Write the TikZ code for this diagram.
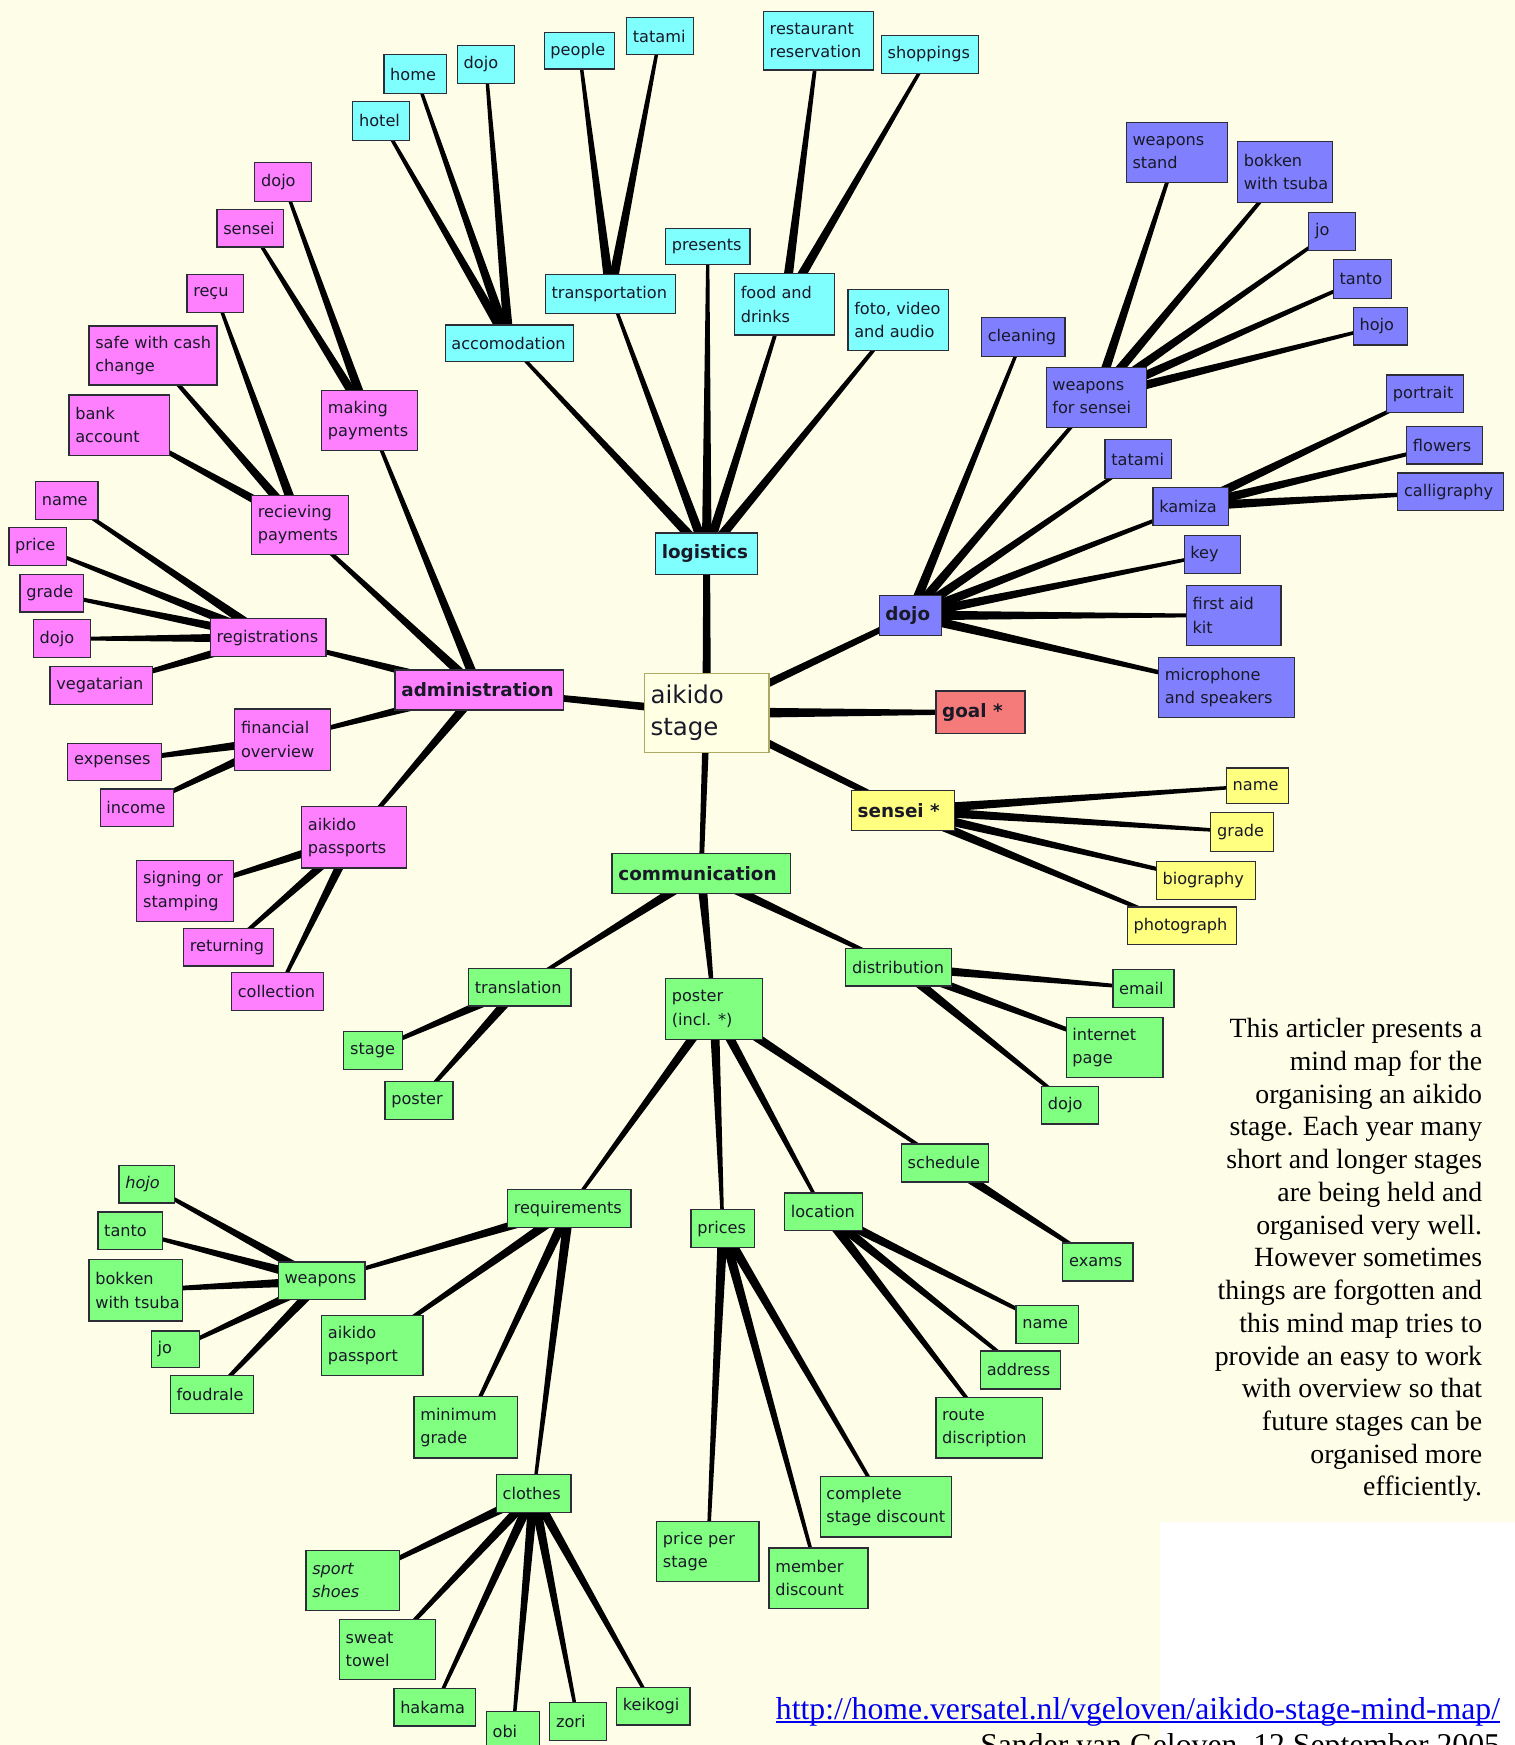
\documentclass[tikz,border=0pt]{standalone}
\usepackage{fontspec}
\setmainfont{Liberation Serif}
\newfontfamily\bxfont{DejaVu Sans}
\usetikzlibrary{calc}
\pgfdeclarelayer{bgl}
\pgfdeclarelayer{edges}
\pgfsetlayers{bgl,edges,main}
\definecolor{bgc}{RGB}{254,253,232}
\definecolor{cyanc}{RGB}{128,255,255}
\definecolor{magc}{RGB}{255,128,255}
\definecolor{bluec}{RGB}{128,128,255}
\definecolor{greenc}{RGB}{128,255,128}
\definecolor{yelc}{RGB}{255,255,128}
\definecolor{redc}{RGB}{245,122,122}
\definecolor{cenc}{RGB}{255,255,228}
\definecolor{cenb}{RGB}{170,170,100}
\definecolor{bordc}{RGB}{45,45,55}
\definecolor{txtc}{RGB}{25,25,40}
\definecolor{urlc}{RGB}{0,0,238}
\tikzset{
  box/.style={draw=bordc, line width=1.1pt, inner sep=0pt},
  cy/.style={box, fill=cyanc},
  mg/.style={box, fill=magc},
  bl/.style={box, fill=bluec},
  gr/.style={box, fill=greenc},
  ye/.style={box, fill=yelc},
  rd/.style={box, fill=redc},
  lbl/.style={anchor=west, inner sep=0pt, align=left, text=txtc, font=\bxfont\fontsize{14.5}{21}\selectfont},
  ilbl/.style={lbl, font=\bxfont\itshape\fontsize{14.5}{21}\selectfont},
  blbl/.style={lbl, font=\bxfont\bfseries\fontsize{16.5}{21}\selectfont},
  edge/.style={fill=black}
}
\newcommand\bx[8][lbl]{%
  \pgfmathsetmacro\bxcx{(#4+#6)/2}%
  \pgfmathsetmacro\bxcy{(#5+#7)/2}%
  \pgfmathsetmacro\bxw{#6-#4}%
  \pgfmathsetmacro\bxh{#7-#5}%
  \node[#3, minimum width=\bxw pt, minimum height=\bxh pt] (#2) at (\bxcx,\bxcy) {};
  \node[#1] at ([xshift=6pt]#2.west) {#8};}
\newcommand\cnw[4]{\fill[edge] ($(#1.center)!#3!90:(#2.center)$) -- ($(#2.center)!#4!-90:(#1.center)$) -- ($(#2.center)!#4!90:(#1.center)$) -- ($(#1.center)!#3!-90:(#2.center)$) -- cycle;}
\newcommand\cn[2]{\cnw{#1}{#2}{4.4pt}{1.3pt}}
\begin{document}
\begin{tikzpicture}[x=1pt,y=-1pt]
\useasboundingbox (0,0) rectangle (1361,1568);
\begin{pgfonlayer}{bgl}
\fill[bgc] (0,0) rectangle (1361,1568);
\fill[white] (1042,1368) rectangle (1361,1568);
\end{pgfonlayer}
% centre
\node[draw=cenb, line width=1.3pt, fill=cenc, minimum width=112pt, minimum height=71pt, inner sep=0pt] (stage) at (635,640.5) {};
\node[lbl, font=\bxfont\fontsize{22}{28}\selectfont] at ([xshift=6pt]stage.west) {aikido\\stage};
% logistics
\bx[blbl]{log}{cy}{589}{479}{681}{516}{logistics}
\bx{lpres}{cy}{598}{205}{674}{238}{presents}
\bx{ltrans}{cy}{490}{247}{607}{282}{transportation}
\bx{lacc}{cy}{400}{292}{515}{325}{accomodation}
\bx{lfood}{cy}{660}{246}{750}{301}{food and\\drinks}
\bx{lfoto}{cy}{762}{260}{852}{315}{foto, video\\and audio}
\bx{lhotel}{cy}{317}{91}{368}{126}{hotel}
\bx{lhome}{cy}{345}{49}{401}{84}{home}
\bx{ldojo}{cy}{411}{41}{462}{75}{dojo}
\bx{lpeople}{cy}{489}{29}{552}{62}{people}
\bx{ltatami}{cy}{563}{16}{623}{49}{tatami}
\bx{lrest}{cy}{686}{10}{785}{63}{restaurant\\reservation}
\bx{lshop}{cy}{792}{32}{879}{66}{shoppings}
% dojo
\bx[blbl]{dj}{bl}{790}{535}{846}{571}{dojo}
\bx{dclean}{bl}{882}{285}{957}{320}{cleaning}
\bx{dwfs}{bl}{940}{330}{1030}{384}{weapons\\for sensei}
\bx{dstand}{bl}{1012}{110}{1103}{164}{weapons\\stand}
\bx{dbok}{bl}{1112}{127}{1197}{182}{bokken\\with tsuba}
\bx{djo}{bl}{1176}{191}{1218}{225}{jo}
\bx{dtanto}{bl}{1198}{233}{1250}{268}{tanto}
\bx{dhojo}{bl}{1216}{276}{1265}{310}{hojo}
\bx{dport}{bl}{1246}{337}{1315}{371}{portrait}
\bx{dflow}{bl}{1264}{383}{1332}{417}{flowers}
\bx{dcall}{bl}{1256}{425}{1351}{459}{calligraphy}
\bx{dtat}{bl}{993}{395}{1053}{430}{tatami}
\bx{dkam}{bl}{1036}{438}{1104}{472}{kamiza}
\bx{dkey}{bl}{1064}{481}{1115}{515}{key}
\bx{daid}{bl}{1066}{526}{1151}{580}{first aid\\kit}
\bx{dmic}{bl}{1041}{591}{1163}{645}{microphone\\and speakers}
% goal
\bx[blbl]{goal}{rd}{841}{621}{921}{659}{goal *}
% sensei
\bx[blbl]{sen}{ye}{765}{710}{858}{746}{sensei *}
\bx{sname}{ye}{1102}{690}{1158}{722}{name}
\bx{sgrade}{ye}{1088}{730}{1144}{765}{grade}
\bx{sbio}{ye}{1039}{774}{1128}{808}{biography}
\bx{sphoto}{ye}{1013}{815}{1111}{849}{photograph}
% administration
\bx[blbl]{adm}{mg}{355}{602}{506}{638}{administration}
\bx{amake}{mg}{289}{351}{375}{405}{making\\payments}
\bx{adojo}{mg}{229}{146}{280}{181}{dojo}
\bx{asensei}{mg}{195}{188}{255}{222}{sensei}
\bx{arecu}{mg}{168}{247}{219}{281}{reçu}
\bx{asafe}{mg}{80}{293}{195}{346}{safe with cash\\change}
\bx{abank}{mg}{62}{355}{152}{409}{bank\\account}
\bx{arecv}{mg}{226}{445}{313}{498}{recieving\\payments}
\bx{aname}{mg}{32}{433}{88}{467}{name}
\bx{aprice}{mg}{8}{474}{60}{508}{price}
\bx{agrade}{mg}{18}{516}{75}{550}{grade}
\bx{adojo2}{mg}{30}{557}{81}{591}{dojo}
\bx{areg}{mg}{189}{556}{293}{590}{registrations}
\bx{aveg}{mg}{45}{599}{137}{633}{vegatarian}
\bx{afin}{mg}{211}{637}{297}{692}{financial\\overview}
\bx{aexp}{mg}{61}{668}{145}{701}{expenses}
\bx{ainc}{mg}{90}{709}{156}{743}{income}
\bx{apass}{mg}{271}{725}{365}{780}{aikido\\passports}
\bx{asign}{mg}{123}{773}{210}{828}{signing or\\stamping}
\bx{aret}{mg}{165}{834}{246}{868}{returning}
\bx{acoll}{mg}{208}{874}{291}{908}{collection}
% communication
\bx[blbl]{com}{gr}{550}{767}{710}{803}{communication}
\bx{ctrans}{gr}{421}{870}{513}{904}{translation}
\bx{cstage}{gr}{309}{927}{362}{961}{stage}
\bx{cposter}{gr}{346}{972}{407}{1006}{poster}
\bx{cpinc}{gr}{598}{879}{685}{934}{poster\\(incl. *)}
\bx{cdist}{gr}{760}{852}{855}{886}{distribution}
\bx{cemail}{gr}{1000}{871}{1055}{905}{email}
\bx{cinet}{gr}{958}{914}{1045}{968}{internet\\page}
\bx{cdojo}{gr}{936}{976}{987}{1010}{dojo}
\bx{csched}{gr}{810}{1028}{888}{1062}{schedule}
\bx{cexams}{gr}{955}{1117}{1018}{1151}{exams}
\bx{cloc}{gr}{705}{1072}{775}{1106}{location}
\bx{clname}{gr}{913}{1173}{969}{1207}{name}
\bx{caddr}{gr}{881}{1214}{953}{1248}{address}
\bx{croute}{gr}{841}{1256}{937}{1310}{route\\discription}
\bx{cprices}{gr}{621}{1087}{678}{1121}{prices}
\bx{ccomp}{gr}{737}{1327}{855}{1381}{complete\\stage discount}
\bx{cmem}{gr}{691}{1391}{780}{1445}{member\\discount}
\bx{cpps}{gr}{590}{1367}{682}{1421}{price per\\stage}
\bx{creq}{gr}{456}{1069}{567}{1103}{requirements}
\bx{cweap}{gr}{250}{1134}{328}{1168}{weapons}
\bx[ilbl]{chojo}{gr}{107}{1047}{157}{1081}{hojo}
\bx{ctanto}{gr}{88}{1089}{146}{1123}{tanto}
\bx{cbok}{gr}{80}{1132}{164}{1187}{bokken\\with tsuba}
\bx{cjo}{gr}{136}{1196}{179}{1229}{jo}
\bx{cfoud}{gr}{153}{1236}{228}{1270}{foudrale}
\bx{caikp}{gr}{289}{1182}{380}{1236}{aikido\\passport}
\bx{cmin}{gr}{372}{1255}{465}{1310}{minimum\\grade}
\bx{cclo}{gr}{446}{1325}{513}{1359}{clothes}
\bx[ilbl]{csport}{gr}{275}{1393}{359}{1447}{sport\\shoes}
\bx{csweat}{gr}{305}{1455}{391}{1509}{sweat\\towel}
\bx{chak}{gr}{354}{1517}{427}{1551}{hakama}
\bx{cobi}{gr}{437}{1538}{485}{1574}{obi}
\bx{czori}{gr}{494}{1530}{545}{1564}{zori}
\bx{ckei}{gr}{554}{1516}{620}{1550}{keikogi}
% connectors
\begin{pgfonlayer}{edges}
\cnw{stage}{log}{3.8pt}{3pt}
\cnw{stage}{adm}{3.8pt}{2.5pt}
\cnw{stage}{com}{3.2pt}{2pt}
\cnw{stage}{dj}{3.8pt}{2.5pt}
\cnw{stage}{goal}{5pt}{1.8pt}
\cnw{stage}{sen}{3.8pt}{2.5pt}
\cn{log}{lpres}\cn{log}{ltrans}\cn{log}{lacc}\cn{log}{lfood}\cn{log}{lfoto}
\cn{lacc}{lhotel}\cn{lacc}{lhome}\cn{lacc}{ldojo}
\cn{ltrans}{lpeople}\cn{ltrans}{ltatami}
\cn{lfood}{lrest}\cn{lfood}{lshop}
\cn{dj}{dclean}\cn{dj}{dwfs}\cn{dj}{dtat}\cn{dj}{dkam}\cn{dj}{dkey}\cn{dj}{daid}\cn{dj}{dmic}
\cn{dwfs}{dstand}\cn{dwfs}{dbok}\cn{dwfs}{djo}\cn{dwfs}{dtanto}\cn{dwfs}{dhojo}
\cn{dkam}{dport}\cn{dkam}{dflow}\cn{dkam}{dcall}
\cn{sen}{sname}\cn{sen}{sgrade}\cn{sen}{sbio}\cn{sen}{sphoto}
\cn{adm}{amake}\cn{adm}{arecv}\cn{adm}{areg}\cn{adm}{afin}\cn{adm}{apass}
\cn{amake}{adojo}\cn{amake}{asensei}
\cn{arecv}{arecu}\cn{arecv}{asafe}\cn{arecv}{abank}
\cn{areg}{aname}\cn{areg}{aprice}\cn{areg}{agrade}\cn{areg}{adojo2}\cn{areg}{aveg}
\cn{afin}{aexp}\cn{afin}{ainc}
\cn{apass}{asign}\cn{apass}{aret}\cn{apass}{acoll}
\cn{com}{ctrans}\cn{com}{cpinc}\cn{com}{cdist}
\cn{ctrans}{cstage}\cn{ctrans}{cposter}
\cn{cdist}{cemail}\cn{cdist}{cinet}\cn{cdist}{cdojo}
\cn{cpinc}{csched}\cn{cpinc}{cloc}\cn{cpinc}{cprices}\cn{cpinc}{creq}
\cn{csched}{cexams}
\cn{cloc}{clname}\cn{cloc}{caddr}\cn{cloc}{croute}
\cn{cprices}{ccomp}\cn{cprices}{cmem}\cn{cprices}{cpps}
\cn{creq}{cweap}\cn{creq}{caikp}\cn{creq}{cmin}\cn{creq}{cclo}
\cn{cweap}{chojo}\cn{cweap}{ctanto}\cn{cweap}{cbok}\cn{cweap}{cjo}\cn{cweap}{cfoud}
\cn{cclo}{csport}\cn{cclo}{csweat}\cn{cclo}{chak}\cn{cclo}{cobi}\cn{cclo}{czori}\cn{cclo}{ckei}
\end{pgfonlayer}
% description
\node[anchor=north east, align=right, inner sep=0pt, font=\fontsize{25}{29.4}\selectfont] (desc) at (1332,915) {This articler presents a\\mind map for the\\organising an aikido\\stage. Each year many\\short and longer stages\\are being held and\\organised very well.\\However sometimes\\things are forgotten and\\this mind map tries to\\provide an easy to work\\with overview so that\\future stages can be\\organised more\\efficiently.};
\node[anchor=base east, inner sep=0pt, text=urlc, font=\fontsize{28.5}{30}\selectfont] (url) at (1348,1545) {http://home.versatel.nl/vgeloven/aikido-stage-mind-map/};
\draw[urlc, line width=1.4pt] ([yshift=-2.5pt]url.base west) -- ([yshift=-2.5pt]url.base east);
\node[anchor=base east, inner sep=0pt, font=\fontsize{28.5}{30}\selectfont] (author) at (1348,1577) {Sander van Geloven, 12 September 2005};
\end{tikzpicture}
\end{document}
